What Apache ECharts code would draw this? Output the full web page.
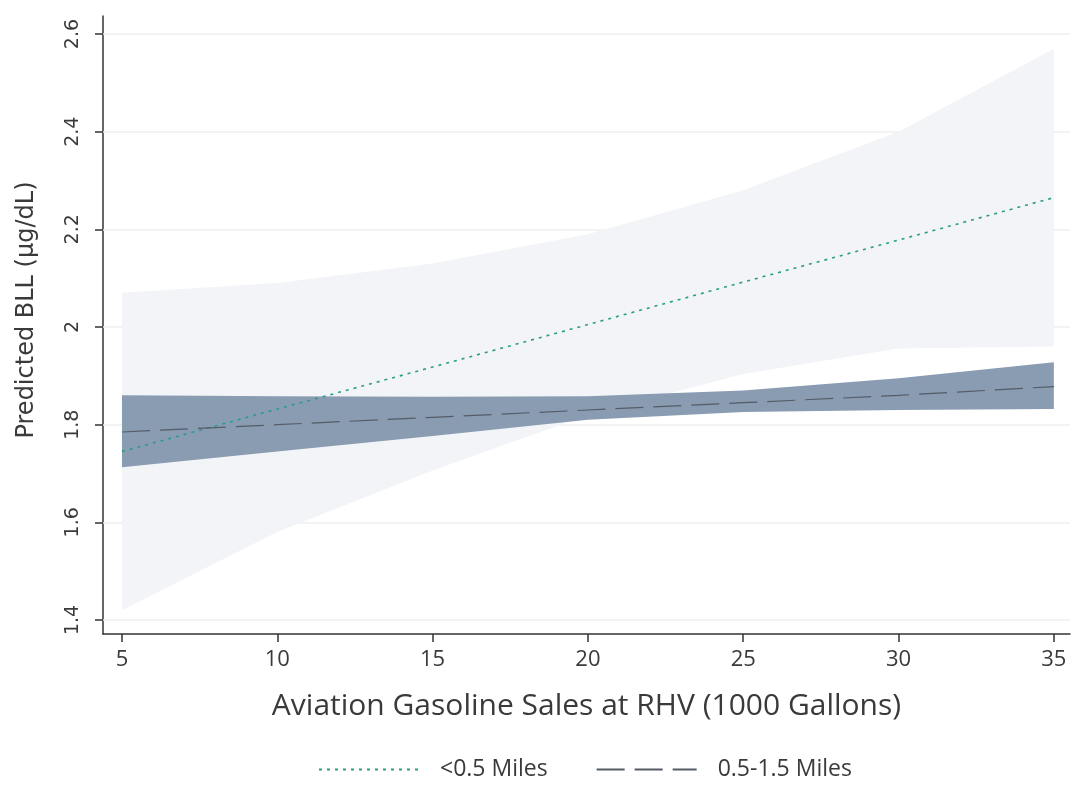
<!DOCTYPE html>
<html>
<head>
<meta charset="utf-8">
<script src="https://cdn.jsdelivr.net/npm/echarts@6/dist/echarts.min.js"></script>
<style>
html,body{margin:0;padding:0;background:#fff;}
#chart{width:1078px;height:786px;}
</style>
</head>
<body>
<div id="chart"></div>
<script>
// ---- data ----
const xValues = [5, 10, 15, 20, 25, 30, 35];
const xTicks = [5, 10, 15, 20, 25, 30, 35];
const yTicks = [1.4, 1.6, 1.8, 2.0, 2.2, 2.4, 2.6];
const seriesNames = ['<0.5 Miles', '0.5-1.5 Miles'];

// <0.5 Miles: prediction and 95% CI
const nearPred = [1.745, 1.832, 1.918, 2.005, 2.092, 2.178, 2.265];
const nearLow  = [1.420, 1.580, 1.706, 1.820, 1.904, 1.956, 1.960];
const nearHigh = [2.070, 2.090, 2.130, 2.190, 2.280, 2.400, 2.570];

// 0.5-1.5 Miles: prediction and 95% CI
const midPred = [1.785, 1.800, 1.815, 1.830, 1.845, 1.860, 1.878];
const midLow  = [1.713, 1.745, 1.777, 1.810, 1.826, 1.830, 1.832];
const midHigh = [1.860, 1.858, 1.857, 1.858, 1.870, 1.895, 1.928];

const FONT = '"Open Sans", "DejaVu Sans", sans-serif';
const YFONT = '"DejaVu Sans", sans-serif';
const TXT = '#3a3a3a';

function pairs(xs, ys) { return xs.map((x, i) => [x, ys[i]]); }

function band(name, lo, hi, color, z) {
  return {
    type: 'custom', name: name, z: z, silent: true,
    data: [[xValues[0], lo[0]]],
    renderItem: function (params, api) {
      const pts = [];
      for (let i = 0; i < xValues.length; i++) pts.push(api.coord([xValues[i], hi[i]]));
      for (let i = xValues.length - 1; i >= 0; i--) pts.push(api.coord([xValues[i], lo[i]]));
      return { type: 'polygon', shape: { points: pts }, style: { fill: color } };
    }
  };
}

const chart = echarts.init(document.getElementById('chart'), null, { renderer: 'canvas' });
chart.setOption({
  backgroundColor: '#ffffff',
  animation: false,
  grid: { left: 103, right: 8, top: 16, bottom: 152, containLabel: false },
  xAxis: {
    type: 'value', min: 4.39, max: 35.52,
    name: 'Aviation Gasoline Sales at RHV (1000 Gallons)',
    nameLocation: 'middle', nameGap: 57,
    nameTextStyle: { fontFamily: FONT, fontSize: 30, color: TXT },
    axisLine: { show: true, lineStyle: { color: '#333', width: 1.5 } },
    axisTick: { show: true, length: 8, customValues: xTicks, lineStyle: { color: '#333', width: 1.5 } },
    axisLabel: { customValues: xTicks, margin: 15, fontFamily: FONT, fontSize: 22, color: TXT },
    splitLine: { show: false }
  },
  yAxis: {
    type: 'value', min: 1.3713, max: 2.6369,
    name: 'Predicted BLL (µg/dL)',
    nameLocation: 'middle', nameGap: 64, nameRotate: 90,
    nameTextStyle: { fontFamily: YFONT, fontSize: 24, color: TXT, padding: [0, 0, 0, 30] },
    axisLine: { show: true, lineStyle: { color: '#333', width: 1.5 } },
    axisTick: { show: true, length: 8, customValues: yTicks, lineStyle: { color: '#333', width: 1.5 } },
    axisLabel: {
      customValues: yTicks, rotate: 90, margin: 20, fontFamily: YFONT, fontSize: 19, color: TXT,
      formatter: function (v) { return String(Math.round(v * 10) / 10); }
    },
    splitLine: { show: false }
  },
  legend: {
    bottom: 0, left: 313,
    data: seriesNames,
    itemWidth: 100, itemHeight: 12, itemGap: 48,
    itemStyle: { opacity: 0 },
    textStyle: { fontFamily: FONT, fontSize: 23, color: TXT, padding: [0, 0, 0, 16] }
  },
  series: [
    {
      type: 'line', name: 'grid', data: [], silent: true, z: 1,
      markLine: {
        silent: true, symbol: 'none', label: { show: false }, z: 1,
        lineStyle: { color: '#efefef', width: 1.5, type: 'solid' },
        data: yTicks.map(v => ({ yAxis: v }))
      }
    },
    band('nearCI', nearLow, nearHigh, '#f2f4f7', 2),
    band('midCI', midLow, midHigh, '#899cb2', 3),
    {
      type: 'line', name: seriesNames[0], data: pairs(xValues, nearPred), z: 5,
      symbol: 'none', smooth: false,
      lineStyle: { color: '#2a9d86', width: 1.6, type: [3, 5] },
      itemStyle: { color: '#2a9d86' }
    },
    {
      type: 'line', name: seriesNames[1], data: pairs(xValues, midPred), z: 5,
      symbol: 'none', smooth: false,
      lineStyle: { color: '#555c66', width: 1.2, type: [28, 10] },
      itemStyle: { color: '#555c66' }
    }
  ]
});
</script>
</body>
</html>
